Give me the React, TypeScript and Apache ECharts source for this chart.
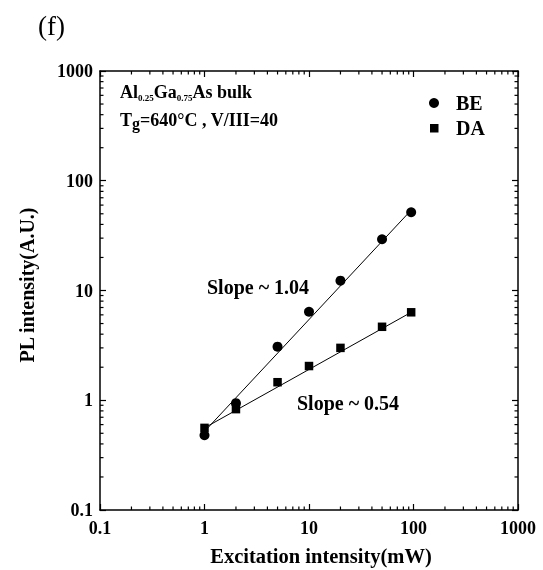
import React, { useEffect, useRef } from "react";
import * as echarts from "echarts";

const excitation = [1, 2, 5, 10, 20, 50, 95];
const beValues = [0.48, 0.94, 3.08, 6.4, 12.3, 29.3, 51.6];
const daValues = [0.56, 0.83, 1.46, 2.05, 3.0, 4.67, 6.33];
const fitX = [1, 95];
const beFitY = [0.52, 54];
const daFitY = [0.56, 6.33];
const axisMin = 0.1;
const axisMax = 1000;
const minorTicks = [0.2, 0.3, 0.4, 0.5, 0.6, 0.7, 0.8, 0.9, 2, 3, 4, 5, 6, 7, 8, 9, 20, 30, 40, 50, 60, 70, 80, 90, 200, 300, 400, 500, 600, 700, 800, 900];
const tickLabels = ["0.1", "1", "10", "100", "1000"];
const xTitle = "Excitation intensity(mW)";
const yTitle = "PL intensity(A.U.)";

const FONT = "'Liberation Serif', 'Times New Roman', serif";
const FS = 18;
const TS = 20;

export default function App() {
  const ref = useRef<HTMLDivElement>(null);
  useEffect(() => {
    if (!ref.current) return;
    const chart = echarts.init(ref.current, null, { renderer: "svg" });
    const fmt = (v: number) => {
      const idx = [0.1, 1, 10, 100, 1000].findIndex((t) => Math.abs(t - v) / t < 1e-6);
      return idx >= 0 ? tickLabels[idx] : "";
    };
    const baseAxis = {
      type: "log" as const,
      logBase: 10,
      min: axisMin,
      max: axisMax,
      splitLine: { show: false },
      axisLine: { show: true, onZero: false, lineStyle: { color: "#000", width: 1.5 } },
      axisTick: { show: true, inside: true, length: 6, lineStyle: { color: "#000", width: 1.2 } },
    };
    const minorTickLen = 3.5;
    chart.setOption({
      animation: false,
      grid: { left: 100, right: 25, top: 71, bottom: 60, containLabel: false },
      xAxis: [
        {
          ...baseAxis,
          position: "bottom",
          axisLabel: { formatter: fmt, fontFamily: FONT, fontWeight: "bold", fontSize: FS, color: "#000", margin: 9 },
        },
        { ...baseAxis, position: "top", axisLabel: { show: false } },
      ],
      yAxis: [
        {
          ...baseAxis,
          position: "left",
          axisLabel: { formatter: fmt, fontFamily: FONT, fontWeight: "bold", fontSize: FS, color: "#000", margin: 7 },
        },
        { ...baseAxis, position: "right", axisLabel: { show: false } },
      ],
      series: [
        {
          type: "custom",
          coordinateSystem: "cartesian2d",
          clip: false,
          silent: true,
          data: minorTicks.map((v) => [v, axisMin]),
          renderItem: (params: any, api: any) => {
            const v = api.value(0);
            const b = api.coord([v, axisMin]);
            const t = api.coord([v, axisMax]);
            return {
              type: "group",
              children: [
                { type: "line", shape: { x1: b[0], y1: b[1], x2: b[0], y2: b[1] - minorTickLen }, style: { stroke: "#000", lineWidth: 1.2 } },
                { type: "line", shape: { x1: t[0], y1: t[1], x2: t[0], y2: t[1] + minorTickLen }, style: { stroke: "#000", lineWidth: 1.2 } },
              ],
            };
          },
        },
        {
          type: "custom",
          coordinateSystem: "cartesian2d",
          clip: false,
          silent: true,
          data: minorTicks.map((v) => [axisMin, v]),
          renderItem: (params: any, api: any) => {
            const v = api.value(1);
            const l = api.coord([axisMin, v]);
            const r = api.coord([axisMax, v]);
            return {
              type: "group",
              children: [
                { type: "line", shape: { x1: l[0], y1: l[1], x2: l[0] + minorTickLen, y2: l[1] }, style: { stroke: "#000", lineWidth: 1.2 } },
                { type: "line", shape: { x1: r[0], y1: r[1], x2: r[0] - minorTickLen, y2: r[1] }, style: { stroke: "#000", lineWidth: 1.2 } },
              ],
            };
          },
        },
        {
          name: "BE fit",
          type: "line",
          data: fitX.map((x, i) => [x, beFitY[i]]),
          symbol: "none",
          lineStyle: { color: "#000", width: 1 },
        },
        {
          name: "DA fit",
          type: "line",
          data: fitX.map((x, i) => [x, daFitY[i]]),
          symbol: "none",
          lineStyle: { color: "#000", width: 1 },
        },
        {
          name: "BE",
          type: "scatter",
          data: excitation.map((x, i) => [x, beValues[i]]),
          symbol: "circle",
          symbolSize: 10,
          itemStyle: { color: "#000", opacity: 1 },
        },
        {
          name: "DA",
          type: "scatter",
          data: excitation.map((x, i) => [x, daValues[i]]),
          symbol: "rect",
          symbolSize: 8.5,
          itemStyle: { color: "#000", opacity: 1 },
        },
      ],
      graphic: [
        { type: "text", left: 38, top: 12, style: { text: "(f)", font: `normal 27px ${FONT}`, fill: "#000" } },
        {
          type: "text",
          x: 321,
          y: 556,
          style: { text: xTitle, font: `bold 20.5px ${FONT}`, fill: "#000", align: "center", verticalAlign: "middle" },
        },
        {
          type: "text",
          x: 27,
          y: 285,
          rotation: Math.PI / 2,
          style: { text: yTitle, font: `bold ${TS}px ${FONT}`, fill: "#000", align: "center", verticalAlign: "middle" },
        },
        {
          type: "text",
          x: 120,
          y: 92,
          style: {
            text: "{m|Al}{s|0.25}{m|Ga}{s|0.75}{m|As bulk}",
            verticalAlign: "middle",
            rich: {
              m: { fontFamily: FONT, fontWeight: "bold", fontSize: FS, lineHeight: 20, fill: "#000" },
              s: { fontFamily: FONT, fontWeight: "bold", fontSize: 9, lineHeight: 9, verticalAlign: "bottom", fill: "#000" },
            },
          },
        },
        {
          type: "text",
          x: 120,
          y: 120,
          style: {
            text: "{m|T}{s|g}{m|=640°C , V/III=40}",
            verticalAlign: "middle",
            rich: {
              m: { fontFamily: FONT, fontWeight: "bold", fontSize: FS, lineHeight: 22, fill: "#000" },
              s: { fontFamily: FONT, fontWeight: "bold", fontSize: 16, lineHeight: 13, verticalAlign: "bottom", fill: "#000" },
            },
          },
        },
        { type: "circle", shape: { cx: 434, cy: 103, r: 5 }, style: { fill: "#000" } },
        { type: "rect", shape: { x: 430, y: 124, width: 8.5, height: 8.5 }, style: { fill: "#000" } },
        { type: "text", x: 456, y: 103, style: { text: "BE", font: `bold 20px ${FONT}`, fill: "#000", verticalAlign: "middle" } },
        { type: "text", x: 456, y: 128, style: { text: "DA", font: `bold 20px ${FONT}`, fill: "#000", verticalAlign: "middle" } },
        { type: "text", x: 207, y: 287, style: { text: "Slope ~ 1.04", font: `bold ${TS}px ${FONT}`, fill: "#000", verticalAlign: "middle" } },
        { type: "text", x: 297, y: 403, style: { text: "Slope ~ 0.54", font: `bold ${TS}px ${FONT}`, fill: "#000", verticalAlign: "middle" } },
      ],
    });
    return () => chart.dispose();
  }, []);
  return <div ref={ref} style={{ position: "fixed", left: 0, top: 0, width: 543, height: 570 }} />;
}
